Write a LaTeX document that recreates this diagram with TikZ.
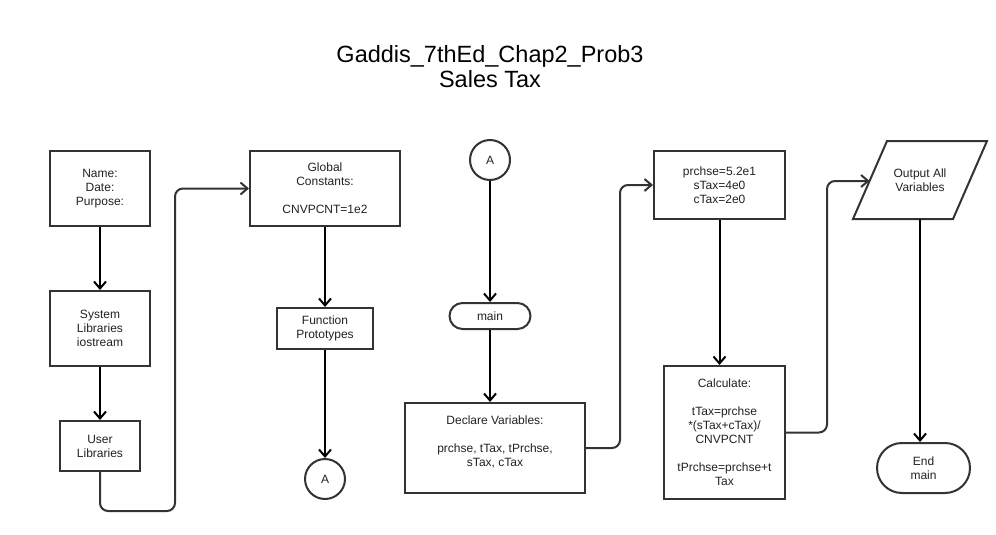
\documentclass[tikz,border=0pt]{standalone}
\usepackage{fontspec}
\setmainfont{Liberation Sans}
\usetikzlibrary{arrows.meta}
\definecolor{boxc}{RGB}{51,51,51}
\definecolor{txtc}{RGB}{34,34,34}
\begin{document}
\begin{tikzpicture}[x=1pt,y=-1pt,
  every node/.style={font=\fontsize{12}{14}\selectfont, align=center, inner sep=0pt, text=txtc},
  box/.style={draw=boxc, line width=2pt, rectangle, fill=white},
  term/.style={box, rounded corners=#1},
  conn/.style={draw=black, line width=2pt, -{Straight Barb[length=7pt,width=12pt,line width=2pt]}},
  link/.style={conn, draw=boxc, rounded corners=8pt}
]
\useasboundingbox[fill=white] (0,0) rectangle (996,535);
\node[font=\fontsize{23.5}{25}\selectfont, text=black] (title) at (490,67) {Gaddis\_7thEd\_Chap2\_Prob3\\Sales Tax};

\node[box, minimum width=100pt, minimum height=75pt] (name) at (100,188.5) {Name:\\Date:\\Purpose:};
\node[box, minimum width=100pt, minimum height=75pt] (sys) at (100,328.5) {System\\Libraries\\iostream};
\node[box, minimum width=80pt, minimum height=50pt] (user) at (100,446) {User\\Libraries};

\node[box, minimum width=150pt, minimum height=75pt] (glob) at (325,188.5) {Global\\Constants:\\[14pt]CNVPCNT=1e2};
\node[box, minimum width=96pt, minimum height=41pt] (fp) at (325,328.5) {Function\\Prototypes};
\node[box, circle, minimum size=40pt] (a1) at (325,479) {A};

\node[box, circle, minimum size=40pt] (a2) at (490,160) {A};
\node[term=13pt, minimum width=81pt, minimum height=26pt] (main) at (490,316) {main};
\node[box, minimum width=180pt, minimum height=90pt, text depth=14pt] (decl) at (495,448) {Declare Variables:\\[14pt]prchse, tTax, tPrchse,\\sTax, cTax};

\node[box, minimum width=131pt, minimum height=68pt] (vals) at (719.5,185) {prchse=5.2e1\\sTax=4e0\\cTax=2e0};
\node[box, minimum width=121pt, minimum height=133pt] (calc) at (724.5,432.5) {Calculate:\\[14pt]tTax=prchse\\*(sTax+cTax)/\\CNVPCNT\\[14pt]tPrchse=prchse+t\\Tax};

\draw[box] (887,141) coordinate (o1) -- (987,141) coordinate (o2) -- (953,219) coordinate (o3) -- (853,219) coordinate (o4) -- cycle;
\node (out) at (920,180) {Output All\\Variables};
\coordinate (outL) at (869.6,181);
\coordinate (outB) at (920,219);
\node[term=25pt, minimum width=93pt, minimum height=50pt] (endm) at (923.5,468) {End\\main};

\coordinate (c1) at (175,511);
\coordinate (c2) at (620,300);
\coordinate (c3) at (827,300);

\draw[conn] (name) -- (sys);
\draw[conn] (sys) -- (user);
\draw[link] (user.south) |- (c1) |- (glob.west);
\draw[conn] (glob) -- (fp);
\draw[conn] (fp) -- (a1);
\draw[conn] (a2) -- (main);
\draw[conn] (main.south) -- (main.south |- decl.north);
\draw[link] (decl.east) -| (c2) |- (vals.west);
\draw[conn] (vals.south) -- (vals.south |- calc.north);
\draw[link] (calc.east) -| (c3) |- (outL);
\draw[conn] (outB) -- (outB |- endm.north);
\end{tikzpicture}
\end{document}
